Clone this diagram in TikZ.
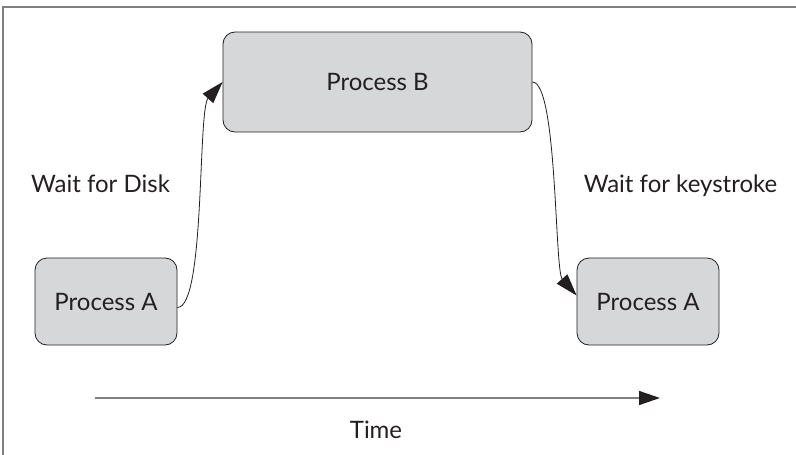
\documentclass[tikz,border=0pt]{standalone}
\usepackage{fontspec}
\setmainfont{Lato}
\usetikzlibrary{arrows.meta}
\usepackage{xcolor}
\definecolor{boxgray}{HTML}{D6D7D9}
\definecolor{framegray}{HTML}{808080}
\definecolor{inkblack}{HTML}{231F20}

\begin{document}
\begin{tikzpicture}[x=1pt, y=-1pt, font=\fontsize{24}{28}\selectfont, text=inkblack]
\tikzset{procnode/.style={draw=inkblack, fill=boxgray, line width=0.8pt, rounded corners=12pt, inner sep=0pt, align=center} }
\tikzset{waitarrow/.style={-{Triangle[width=14pt,length=22pt]}, inkblack, line width=0.8pt} }
\useasboundingbox (0,0) rectangle (796,455);
\draw[framegray, line width=1.5pt] (3,500) -- (3,7) -- (820,7);
\node[procnode, minimum width=309pt, minimum height=100pt] (b)  at (377.5,82)  {Process B};
\node[procnode, minimum width=142pt, minimum height=87pt]  (a1) at (106,301.5) {Process A};
\node[procnode, minimum width=142pt, minimum height=87pt]  (a2) at (648,301.5) {Process A};
\draw[waitarrow] ([yshift=-6pt]a1.east) .. controls +(28,0) and +(-25,28) .. (b.west);
\draw[waitarrow] (b.east) .. controls +(25,0) and +(-22,-25) .. ([yshift=6pt]a2.west);
\node[anchor=base] (disk) at (100.5,192) {Wait for Disk};
\node[anchor=base] (key)  at (680.5,192) {Wait for keystroke};
\coordinate (t0) at (95,398);
\coordinate (t1) at (660,398);
\draw[framegray, line width=1.5pt, -{Triangle[width=14pt,length=21pt,color=inkblack,fill=inkblack]}] (t0) -- (t1);
\node[anchor=base] (time) at (376,438) {Time};
\end{tikzpicture}
\end{document}
